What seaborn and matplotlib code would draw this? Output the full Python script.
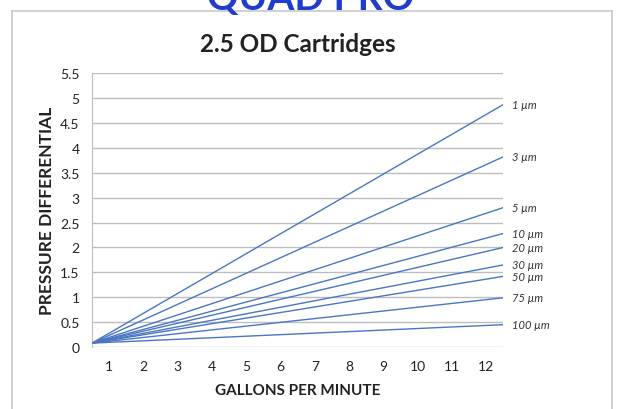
import matplotlib.pyplot as plt
import pandas as pd
import seaborn as sns
from matplotlib.lines import Line2D

# cartridge ratings and their straight pressure lines (start / end)
ratings = ["1 µm", "3 µm", "5 µm", "10 µm", "20 µm", "30 µm", "50 µm", "75 µm", "100 µm"]
gpm_start = 0.5
gpm_end = 12.5
dp_start = [0.08, 0.08, 0.08, 0.08, 0.08, 0.08, 0.08, 0.08, 0.08]
dp_end = [4.87, 3.82, 2.80, 2.28, 2.00, 1.65, 1.42, 0.99, 0.45]

x_ticks = list(range(1, 13))
y_ticks = [0, 0.5, 1, 1.5, 2, 2.5, 3, 3.5, 4, 4.5, 5, 5.5]

rows = []
for r, a, b in zip(ratings, dp_start, dp_end):
    rows.append({"rating": r, "gpm": gpm_start, "dp": a})
    rows.append({"rating": r, "gpm": gpm_end, "dp": b})
df = pd.DataFrame(rows)

sns.set_style("white")
plt.rcParams["font.family"] = ["Lato", "DejaVu Sans"]

fig = plt.figure(figsize=(6.22, 4.10), dpi=100)
ax = fig.add_axes([0.148, 0.151, 0.661, 0.668])

blue = "#4a76c2"
sns.lineplot(data=df, x="gpm", y="dp", hue="rating", palette=[blue] * len(ratings),
             linewidth=1.0, legend=False, ax=ax, zorder=3)

for r, b in zip(ratings, dp_end):
    ax.annotate(r, (gpm_end, b), xytext=(6, 0), textcoords="offset points",
                va="center", ha="left", fontsize=8, style="italic", color="#333333")

ax.set_xlim(0.5, 12.5)
ax.set_ylim(0, 5.5)
ax.set_xticks(x_ticks)
ax.set_yticks(y_ticks)
ax.set_yticklabels([f"{v:g}" for v in y_ticks])
ax.grid(axis="y", color="#bdbdbd", linewidth=1.0)
ax.set_axisbelow(True)
for s in ["top", "right", "bottom"]:
    ax.spines[s].set_visible(False)
ax.spines["left"].set_color("#bdbdbd")
ax.tick_params(axis="y", length=5, color="#bdbdbd", labelsize=10, labelcolor="#222222", pad=4)
ax.tick_params(axis="x", length=0, labelsize=10, labelcolor="#222222", pad=9)

ax.set_xlabel("GALLONS PER MINUTE", fontsize=11, fontweight="bold", color="#222222", labelpad=8)
ax.set_ylabel("PRESSURE DIFFERENTIAL", fontsize=12.5, fontweight="bold", color="#222222", labelpad=4)
ax.set_title("2.5 OD Cartridges", fontsize=17.5, fontweight="bold", color="#222222", pad=16)

# chart frame
frame_c = "#c8c8c8"
fig.add_artist(Line2D([12 / 622, 12 / 622], [0, 1 - 12 / 410], color=frame_c, lw=1.2, transform=fig.transFigure))
fig.add_artist(Line2D([612 / 622, 612 / 622], [0, 1 - 12 / 410], color=frame_c, lw=1.2, transform=fig.transFigure))
fig.add_artist(Line2D([12 / 622, 612 / 622], [1 - 12 / 410, 1 - 12 / 410], color=frame_c, lw=1.2, transform=fig.transFigure))

fig.text(0.5, 1 - 10 / 410, "QUAD PRO", ha="center", va="baseline", fontsize=28,
         fontweight="bold", color="#1f3ccc")

fig.savefig("out.png", dpi=100)
